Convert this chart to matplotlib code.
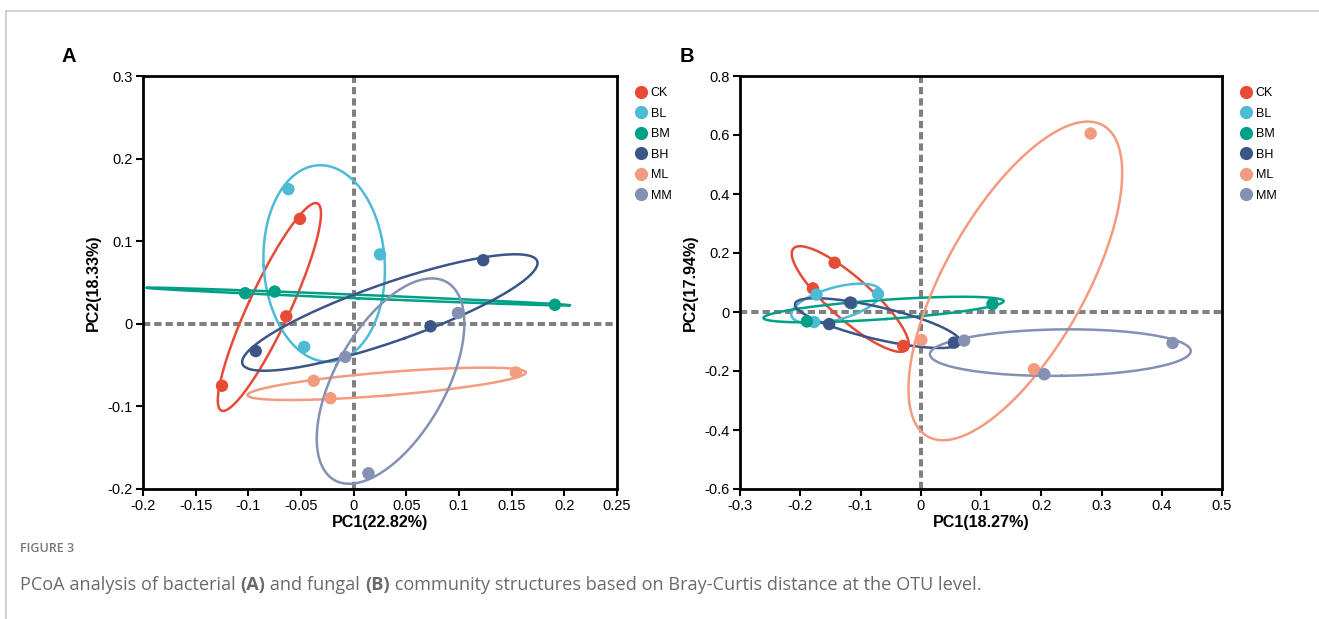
import numpy as np
import matplotlib
matplotlib.use("Agg")
import matplotlib.pyplot as plt
from matplotlib.lines import Line2D

# ---------------- data ----------------
groups = ["CK", "BL", "BM", "BH", "ML", "MM"]
colors = ["#E64B35", "#4DBBD5", "#00A087", "#3C5488", "#F39B7F", "#8491B4"]

# Panel A (bacteria) PCoA coordinates, 3 samples per group
a_ck_x = [-0.051, -0.064, -0.125]; a_ck_y = [0.127, 0.009, -0.075]
a_bl_x = [-0.062, 0.025, -0.047];  a_bl_y = [0.163, 0.084, -0.028]
a_bm_x = [-0.103, -0.075, 0.191];  a_bm_y = [0.037, 0.039, 0.023]
a_bh_x = [0.123, 0.073, -0.093];   a_bh_y = [0.077, -0.003, -0.033]
a_ml_x = [0.154, -0.038, -0.022];  a_ml_y = [-0.059, -0.069, -0.090]
a_mm_x = [0.099, -0.008, 0.014];   a_mm_y = [0.013, -0.040, -0.181]

# Panel B (fungi) PCoA coordinates
b_ck_x = [-0.143, -0.179, -0.029]; b_ck_y = [0.167, 0.080, -0.115]
b_bl_x = [-0.173, -0.071, -0.177]; b_bl_y = [0.059, 0.061, -0.034]
b_bm_x = [0.119, -0.189, -0.115];  b_bm_y = [0.027, -0.032, 0.030]
b_bh_x = [-0.117, -0.152, 0.055];  b_bh_y = [0.032, -0.041, -0.104]
b_ml_x = [0.282, 0.001, 0.188];    b_ml_y = [0.605, -0.095, -0.194]
b_mm_x = [0.072, 0.418, 0.205];    b_mm_y = [-0.097, -0.105, -0.211]

panel_a = [(a_ck_x, a_ck_y), (a_bl_x, a_bl_y), (a_bm_x, a_bm_y),
           (a_bh_x, a_bh_y), (a_ml_x, a_ml_y), (a_mm_x, a_mm_y)]
panel_b = [(b_ck_x, b_ck_y), (b_bl_x, b_bl_y), (b_bm_x, b_bm_y),
           (b_bh_x, b_bh_y), (b_ml_x, b_ml_y), (b_mm_x, b_mm_y)]

a_xticks = [-0.2, -0.15, -0.1, -0.05, 0, 0.05, 0.1, 0.15, 0.2, 0.25]
a_xlabels = ["-0.2", "-0.15", "-0.1", "-0.05", "0", "0.05", "0.1", "0.15", "0.2", "0.25"]
a_yticks = [-0.2, -0.1, 0, 0.1, 0.2, 0.3]
a_ylabels = ["-0.2", "-0.1", "0", "0.1", "0.2", "0.3"]
b_xticks = [-0.3, -0.2, -0.1, 0, 0.1, 0.2, 0.3, 0.4, 0.5]
b_xlabels = ["-0.3", "-0.2", "-0.1", "0", "0.1", "0.2", "0.3", "0.4", "0.5"]
b_yticks = [-0.6, -0.4, -0.2, 0, 0.2, 0.4, 0.6, 0.8]
b_ylabels = ["-0.6", "-0.4", "-0.2", "0", "0.2", "0.4", "0.6", "0.8"]

a_xlabel = "PC1(22.82%)"; a_ylabel = "PC2(18.33%)"
b_xlabel = "PC1(18.27%)"; b_ylabel = "PC2(17.94%)"

# ---------------- style ----------------
plt.rcParams["font.family"] = ["Liberation Sans", "DejaVu Sans"]
W, H = 1319, 619
fig = plt.figure(figsize=(W / 100, H / 100), dpi=100)

K = 1.24  # ellipse scale (sd multiplier)


def ellipse_xy(x, y, k=K, n=200):
    x = np.asarray(x); y = np.asarray(y)
    cov = np.cov(x, y)
    vals, vecs = np.linalg.eigh(cov)
    vals = np.clip(vals, 0, None)
    t = np.linspace(0, 2 * np.pi, n)
    circ = np.vstack([np.cos(t), np.sin(t)])
    pts = vecs @ (np.sqrt(vals)[:, None] * circ) * k
    return pts[0] + x.mean(), pts[1] + y.mean()


def draw_panel(rect, data, xlim, ylim, xt, xtl, yt, ytl, xl, yl):
    ax = fig.add_axes(rect)
    ax.set_xlim(*xlim); ax.set_ylim(*ylim)
    ax.axvline(0, color="#808080", lw=2.9, dashes=(1.8, 1.0), zorder=1)
    ax.axhline(0, color="#808080", lw=2.9, dashes=(1.8, 1.0), zorder=1)
    for (x, y), c in zip(data, colors):
        ex, ey = ellipse_xy(x, y)
        ax.plot(ex, ey, color=c, lw=1.8, zorder=2)
    for (x, y), c in zip(data, colors):
        ax.scatter(x, y, s=80, color=c, edgecolors="none", zorder=3)
    ax.set_xticks(xt); ax.set_xticklabels(xtl)
    ax.set_yticks(yt); ax.set_yticklabels(ytl)
    ax.tick_params(direction="out", length=5, width=1.5, labelsize=10.5, pad=2.5,
                   colors="black")
    for s in ax.spines.values():
        s.set_linewidth(2.0)
    ax.set_xlabel(xl, fontsize=11.6, fontweight="bold", labelpad=1)
    ax.set_ylabel(yl, fontsize=11.6, fontweight="bold", labelpad=5)
    handles = [Line2D([], [], marker="o", ls="none", color=c, markersize=9.5,
                      markeredgewidth=0) for c in colors]
    ax.legend(handles, groups, loc="upper left", bbox_to_anchor=(1.03, 0.985),
              frameon=False, fontsize=9, handlelength=0.8, handletextpad=0.35,
              labelspacing=0.68, borderaxespad=0)
    return ax


axA = draw_panel([143 / W, 1 - 489 / H, (617 - 143) / W, (489 - 76) / H], panel_a,
                 (-0.2, 0.25), (-0.2, 0.3), a_xticks, a_xlabels, a_yticks, a_ylabels,
                 a_xlabel, a_ylabel)
axB = draw_panel([740 / W, 1 - 489 / H, (1222 - 740) / W, (489 - 76) / H], panel_b,
                 (-0.3, 0.5), (-0.6, 0.8), b_xticks, b_xlabels, b_yticks, b_ylabels,
                 b_xlabel, b_ylabel)

fig.text(61 / W, 1 - 57 / H, "A", fontsize=14.5, fontweight="bold", va="center")
fig.text(680 / W, 1 - 57 / H, "B", fontsize=14.5, fontweight="bold", va="center")

# frame lines
fig.add_artist(Line2D([6 / W, 1], [1 - 11 / H, 1 - 11 / H], color="#c8c8c8", lw=1.2))
fig.add_artist(Line2D([6 / W, 6 / W], [0, 1 - 11 / H], color="#c8c8c8", lw=1.2))

# caption
cap_font = ["Open Sans", "DejaVu Sans"]
fig.text(20 / W, 1 - 548 / H, "FIGURE 3", fontsize=9, color="#777777",
         family=cap_font, fontweight="semibold", va="center")
pieces = [("PCoA analysis of bacterial ", "normal"), ("(A)", "bold"),
          (" and fungal ", "normal"), ("(B)", "bold"),
          (" community structures based on Bray-Curtis distance at the OTU level.", "normal")]
fig.canvas.draw()
r = fig.canvas.get_renderer()
xpix = 20
for txt, wt in pieces:
    t = fig.text(xpix / W, 1 - 585 / H, txt, fontsize=13.1, color="#6a6a6a",
                 family=cap_font, fontweight=wt, va="center")
    bb = t.get_window_extent(renderer=r)
    xpix += bb.width

fig.savefig("out.png", dpi=100)
